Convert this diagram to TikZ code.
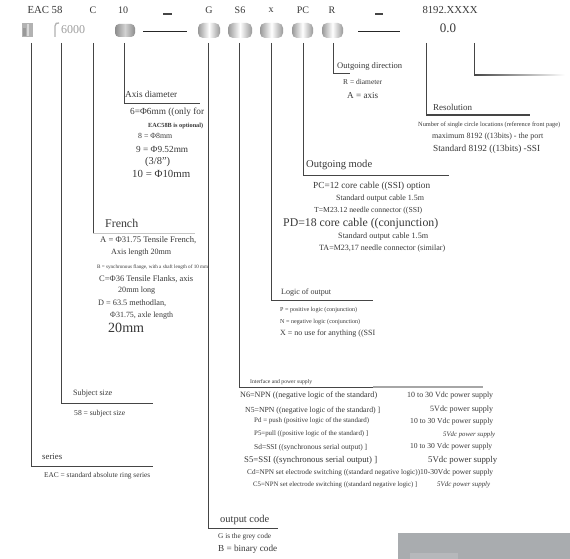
\documentclass[tikz,border=0pt]{standalone}
\usepackage{fontspec}
\setmainfont{Liberation Serif}
\usepackage{graphicx}
\definecolor{ink}{HTML}{383838}
\definecolor{ln}{HTML}{454545}
\definecolor{boxgrey}{HTML}{A9ACAF}
\tikzset{
  txt/.style={anchor=west,inner sep=0pt,text=ink},
  top/.style={anchor=center,inner sep=0pt,text=ink,font=\fontsize{10}{10}\selectfont},
  conn/.style={draw=ln,line width=0.8pt},
  cyl/.style={rounded corners=5pt,left color=gray!80,right color=gray!80,middle color=white},
}
\newcommand{\ptxt}[5]{\node[txt] (#1) at (#2,#3) {\resizebox{#4pt}{!}{#5}};}
\begin{document}
\begin{tikzpicture}[x=1pt,y=-1pt]
\useasboundingbox (0,0) rectangle (570,559);
\fill[white] (0,0) rectangle (570,559);

% ---------- top row labels ----------
\node[top] (hEAC) at (45,10) {\resizebox{35pt}{!}{EAC 58}};
\node[top] (hC) at (93,10) {C};
\node[top] (h10) at (123,10) {10};
\node[top] (hG) at (209,10) {G};
\node[top] (hS6) at (240,10) {S6};
\node[top] (hx) at (271,10) {x};
\node[top] (hPC) at (303,10) {PC};
\node[top] (hR) at (332,10) {R};
\node[top] (hres) at (450,10) {\resizebox{55pt}{!}{8192.XXXX}};
\node[top,font=\fontsize{13}{13}\selectfont] (hzero) at (448,28) {0.0};
\coordinate (d1a) at (163,14); \coordinate (d1b) at (172,14);
\draw[ln,line width=1.4pt] (d1a) -- (d1b);
\coordinate (d2a) at (375,14); \coordinate (d2b) at (383,14);
\draw[ln,line width=1.4pt] (d2a) -- (d2b);

% ---------- icon row ----------
\fill[gray!60] (22,23) rectangle (33,37);
\fill[gray!30] (27,24) rectangle (28.5,36);
\fill[gray!80] (23,28) rectangle (26,36);
\draw[gray!60,line width=1.3pt] (55,37) -- (55,26) .. controls (55,23) and (57,23) .. (59,23);
\node[txt,text=gray!75,font=\fontsize{12}{12}\selectfont] (i6000) at (61,30) {6000};
\shade[rounded corners=4pt,left color=gray!90,right color=gray!90,middle color=gray!35] (115,24) rectangle (135,37);
\coordinate (l1a) at (143,32); \coordinate (l1b) at (187,32);
\draw[black!85,line width=1pt] (l1a) -- (l1b);
\shade[cyl] (198,23) rectangle (220,38);
\shade[cyl] (228,23) rectangle (252,38);
\shade[cyl] (260,23) rectangle (283,38);
\shade[cyl] (292,23) rectangle (313,38);
\shade[cyl] (322,23) rectangle (343,38);
\coordinate (l2a) at (358,32); \coordinate (l2b) at (400,32);
\draw[black!85,line width=1pt] (l2a) -- (l2b);

% ---------- connector coordinates ----------
\coordinate (tSer) at (31,43);  \coordinate (cSer) at (31,466);  \coordinate (eSer) at (153,466);
\coordinate (tSub) at (61,43);  \coordinate (cSub) at (61,403);  \coordinate (eSub) at (153,403);
\coordinate (tFr)  at (93,43);  \coordinate (cFr)  at (93,233);  \coordinate (eFr)  at (195,233);
\coordinate (tAx)  at (124,43); \coordinate (cAx)  at (124,103); \coordinate (eAx)  at (200,103);
\coordinate (tOc)  at (208,43); \coordinate (cOc)  at (208,528); \coordinate (eOc)  at (278,528);
\coordinate (tIf)  at (239,43); \coordinate (cIf)  at (239,387); \coordinate (mIf)  at (373,387); \coordinate (eIf) at (483,387);
\coordinate (tLo)  at (271,43); \coordinate (cLo)  at (271,300); \coordinate (eLo)  at (373,300);
\coordinate (tOm)  at (303,43); \coordinate (cOm)  at (303,175); \coordinate (eOm)  at (449,175);
\coordinate (tOd)  at (333,43); \coordinate (cOd)  at (333,73);  \coordinate (eOd)  at (350,73);
\coordinate (tRe)  at (426,43); \coordinate (cRe)  at (426,115); \coordinate (eRe)  at (530,115);
\coordinate (tZz)  at (474,43); \coordinate (cZz)  at (474,75);  \coordinate (eZz)  at (565,75);

\draw[conn] (tSer) -- (cSer) -- (eSer);
\draw[conn] (tSub) -- (cSub) -- (eSub);
\draw[conn] (tFr) -- (cFr);
\draw[draw=gray!45,line width=0.6pt] (cFr) -- (eFr);
\draw[conn] (tAx) -- (cAx) -- (eAx);
\draw[conn] (tOc) -- (cOc) -- (eOc);
\draw[conn] (tIf) -- (cIf) -- (mIf);
\draw[draw=gray!70,line width=1.6pt] (mIf) -- (eIf);
\draw[conn] (tLo) -- (cLo) -- (eLo);
\draw[conn] (tOm) -- (cOm) -- (eOm);
\draw[conn] (tOd) -- (cOd) -- (eOd);
\draw[conn] (tRe) -- (cRe);
\draw[draw=ln,line width=1.3pt] (cRe) -- (eRe);
\draw[conn] (tZz) -- (cZz);
\shade[left color=ln,right color=white] (474,74.4) rectangle (565,75.6);

% ---------- series ----------
\ptxt{serT}{42}{457}{20}{series}
\ptxt{serD}{44}{476}{106}{EAC = standard absolute ring series}
% ---------- subject size ----------
\ptxt{subT}{73}{394}{39}{Subject size}
\ptxt{subD}{74}{414}{51}{58 = subject size}
% ---------- French ----------
\ptxt{frT}{105}{223}{33}{French}
\ptxt{frA}{100}{240}{96}{A = Φ31.75 Tensile French,}
\ptxt{frA2}{111}{253}{60}{Axis length 20mm}
\ptxt{frB}{97}{267}{111}{B = synchronous flange, with a shaft length of 10 mm}
\ptxt{frC}{99}{279}{94}{C=Φ36 Tensile Flanks, axis}
\ptxt{frC2}{118}{291}{37}{20mm long}
\ptxt{frD}{98}{303}{68}{D = 63.5 methodlan,}
\ptxt{frD2}{110}{316}{63}{Φ31.75, axle length}
\ptxt{frD3}{108}{328}{36}{20mm}
% ---------- axis diameter ----------
\ptxt{axT}{125}{94}{52}{Axis diameter}
\ptxt{ax6}{130}{112}{74}{6=Φ6mm ((only for}
\ptxt{ax6b}{148}{126}{55}{\bfseries EAC58B is optional)}
\ptxt{ax8}{138}{136}{34}{8 = Φ8mm}
\ptxt{ax9}{136}{149}{52}{9 = Φ9.52mm}
\ptxt{ax9b}{145}{162}{25}{(3/8")}
\ptxt{ax10}{132}{174}{58}{10 = Φ10mm}
% ---------- output code ----------
\ptxt{ocT}{220}{520}{49}{output code}
\ptxt{ocG}{218}{537}{53}{G is the grey code}
\ptxt{ocB}{218}{549}{59}{B = binary code}
% ---------- interface ----------
\ptxt{ifT}{250}{382}{62}{Interface and power supply}
\ptxt{ifN6}{240}{396}{137}{N6=NPN ((negative logic of the standard)}
\ptxt{ifN6p}{407}{396}{86}{10 to 30 Vdc power supply}
\ptxt{ifN5}{245}{411}{135}{N5=NPN ((negative logic of the standard) ]}
\ptxt{ifN5p}{430}{410}{63}{5Vdc power supply}
\ptxt{ifPd}{254}{421}{115}{Pd = push (positive logic of the standard)}
\ptxt{ifPdp}{410}{422}{83}{10 to 30 Vdc power supply}
\ptxt{ifP5}{254}{434}{114}{P5=pull ((positive logic of the standard) ]}
\ptxt{ifP5p}{443}{435}{52}{\itshape 5Vdc power supply}
\ptxt{ifSd}{254}{448}{113}{Sd=SSI ((synchronous serial output) ]}
\ptxt{ifSdp}{410}{447}{82}{10 to 30 Vdc power supply}
\ptxt{ifS5}{244}{460}{133}{S5=SSI ((synchronous serial output) ]}
\ptxt{ifS5p}{428}{460}{69}{5Vdc power supply}
\ptxt{ifCd}{247}{473}{173}{Cd=NPN set electrode switching ((standard negative logic))}
\ptxt{ifCdp}{420}{473}{73}{10-30Vdc power supply}
\ptxt{ifC5}{253}{485}{164}{C5=NPN set electrode switching ((standard negative logic) ]}
\ptxt{ifC5p}{437}{485}{53}{\itshape 5Vdc power supply}
% ---------- logic of output ----------
\ptxt{loT}{281}{293}{50}{Logic of output}
\ptxt{loP}{280}{310}{77}{P = positive logic (conjunction)}
\ptxt{loN}{280}{322}{80}{N = negative logic (conjunction)}
\ptxt{loX}{280}{334}{95}{X = no use for anything ((SSI}
% ---------- outgoing mode ----------
\ptxt{omT}{306}{165}{66}{Outgoing mode}
\ptxt{omPC}{313}{186}{117}{PC=12 core cable ((SSI) option}
\ptxt{omPC2}{336}{199}{88}{Standard output cable 1.5m}
\ptxt{omT1}{314}{211}{108}{T=M23.12 needle connector ((SSI)}
\ptxt{omPD}{283}{224}{155}{PD=18 core cable ((conjunction)}
\ptxt{omPD2}{338}{237}{90}{Standard output cable 1.5m}
\ptxt{omTA}{319}{249}{126}{TA=M23,17 needle connector (similar)}
% ---------- outgoing direction ----------
\ptxt{odT}{337}{66}{65}{Outgoing direction}
\ptxt{odR}{343}{82}{39}{R = diameter}
\ptxt{odA}{347}{96}{31}{A = axis}
% ---------- resolution ----------
\ptxt{reT}{433}{107}{39}{Resolution}
\ptxt{reN}{418}{125}{142}{Number of single circle locations (reference front page)}
\ptxt{reM}{432}{137}{111}{maximum 8192 ((13bits) - the port}
\ptxt{reS}{433}{149}{107}{Standard 8192 ((13bits) -SSI}

% ---------- grey box bottom right ----------
\fill[boxgrey] (398,533) rectangle (570,559);
\fill[boxgrey!85!white] (410,553) rectangle (458,559);
\end{tikzpicture}
\end{document}
